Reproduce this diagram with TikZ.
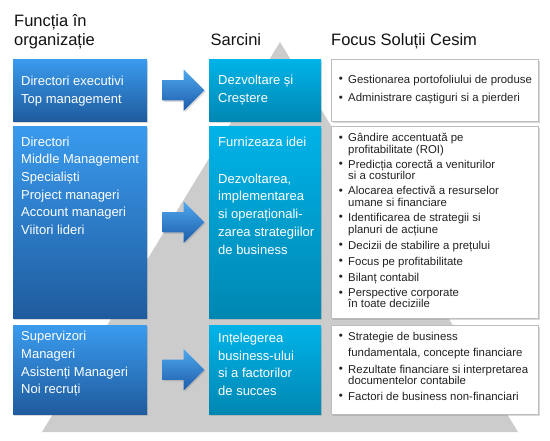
\documentclass[tikz,border=0pt]{standalone}
\usepackage{fontspec}
\setmainfont{Liberation Sans}
\usetikzlibrary{shapes.arrows,shadows,calc}
\definecolor{tri}{HTML}{CCCCCC}
\definecolor{ltop}{HTML}{3A9BEE}
\definecolor{lbot}{HTML}{1F5B9E}
\definecolor{mtop}{HTML}{00B3E8}
\definecolor{mbot}{HTML}{0087B2}
\definecolor{atop}{HTML}{4FA8EE}
\definecolor{abot}{HTML}{1C5CAA}
\definecolor{rline}{HTML}{BDBDBD}
\definecolor{rtext}{HTML}{222222}
\definecolor{htext}{HTML}{111111}
\newcommand\bl{\makebox[9pt][l]{\hspace{-0.3pt}\raisebox{0.6pt}{\fontsize{11.5}{11.5}\selectfont •}}}
\newcommand\ct{\hspace*{9pt}}
\begin{document}
\begin{tikzpicture}[x=1pt,y=-1pt,
  shad/.style={drop shadow={opacity=0.3,shadow xshift=1.2pt,shadow yshift=-1.4pt}},
  lbox/.style={shad,draw=none,top color=ltop,bottom color=lbot,anchor=north west,inner sep=0pt,minimum width=134pt},
  mbox/.style={shad,draw=none,top color=mtop,bottom color=mbot,anchor=north west,inner sep=0pt,minimum width=112pt},
  rbox/.style={shad,draw=rline,line width=0.7pt,fill=white,anchor=north west,inner sep=0pt,minimum width=207pt},
  wtext/.style={anchor=base west,inner sep=0pt,text=white,font=\fontsize{13}{17.7}\selectfont},
  rtxt/.style={anchor=base west,inner sep=0pt,text=rtext,font=\fontsize{11.4}{11.6}\selectfont},
  head/.style={anchor=base west,inner sep=0pt,text=htext,font=\fontsize{16.5}{19.5}\selectfont},
  barrow/.style={shad,single arrow,single arrow head extend=10.5pt,minimum height=42pt,inner xsep=0pt,inner ysep=10pt,draw=none,top color=atop,bottom color=abot}]
\useasboundingbox (0,0) rectangle (550,440);
\fill[tri] (280,42) -- (42,432) -- (518,432) -- cycle;
% headers
\node[head] (h1) at (14,26) {\parbox[t]{150pt}{Funcția în\\organizație}};
\node[head] (h2) at (210.5,45.5) {Sarcini};
\node[head] (h3) at (331,45) {Focus Soluții Cesim};
% boxes
\node[lbox,minimum height=62pt] (l1) at (13,59) {};
\node[lbox,minimum height=192pt] (l2) at (13,126) {};
\node[lbox,minimum height=89pt] (l3) at (13,325) {};
\node[mbox,minimum height=62pt] (m1) at (209,59) {};
\node[mbox,minimum height=192pt] (m2) at (209,126) {};
\node[mbox,minimum height=89pt] (m3) at (209,325) {};
\node[rbox,minimum height=62pt] (r1) at (331,59) {};
\node[rbox,minimum height=192pt] (r2) at (331,126) {};
\node[rbox,minimum height=89pt] (r3) at (331,325) {};
% arrows
\node[barrow] (a1) at ($(l1.east)!0.5!(m1.west)$) {};
\node[barrow] (a2) at ($(l2.east)!0.5!(m2.west)$) {};
\node[barrow] (a3) at ($(l3.east)!0.5!(m3.west)$) {};
% left texts
\node[wtext] (tl1) at (21,85.5) {\parbox[t]{125pt}{Directori executivi\\Top management}};
\node[wtext] (tl2) at (21,146) {\parbox[t]{125pt}{Directori\\Middle Management\\Specialiști\\Project manageri\\Account manageri\\Viitori lideri}};
\node[wtext] (tl3) at (21,340.7) {\parbox[t]{125pt}{Supervizori\\Manageri\\Asistenți Manageri\\Noi recruți}};
% middle texts
\node[wtext] (tm1) at (218,84.3) {\parbox[t]{102pt}{Dezvoltare și\\Creștere}};
\node[wtext] (tm2) at (218,146) {\parbox[t]{102pt}{Furnizeaza idei\\[19.5pt]Dezvoltarea,\\implementarea\\si operaționali-\\zarea strategiilor\\de business}};
\node[wtext] (tm3) at (218,342.3) {\parbox[t]{102pt}{Ințelegerea\\business-ului\\si a factorilor\\de succes}};
% right texts
\node[rtxt] (tr1) at (339,83) {\parbox[t]{198pt}{\bl Gestionarea portofoliului de produse\\[7.3pt]\bl Administrare caștiguri si a pierderi}};
\node[rtxt] (tr2) at (339,141.7) {\parbox[t]{198pt}{\bl Gândire accentuată pe\\\ct profitabilitate (ROI)\\[3.4pt]\bl Predicția corectă a veniturilor\\\ct si a costurilor\\[3.4pt]\bl Alocarea efectivă a resurselor\\\ct umane si financiare\\[3.4pt]\bl Identificarea de strategii si\\\ct planuri de acțiune\\[4.8pt]\bl Decizii de stabilire a prețului\\[4.3pt]\bl Focus pe profitabilitate\\[4pt]\bl Bilanț contabil\\[4pt]\bl Perspective corporate\\[-0.3pt]\ct în toate deciziile}};
\node[rtxt] (tr3) at (339,340) {\parbox[t]{198pt}{\bl Strategie de business\\[5pt]\ct fundamentala, concepte financiare\\[5pt]\bl Rezultate financiare si interpretarea\\[-0.6pt]\ct documentelor contabile\\[4.6pt]\bl Factori de business non-financiari}};
\end{tikzpicture}
\end{document}
